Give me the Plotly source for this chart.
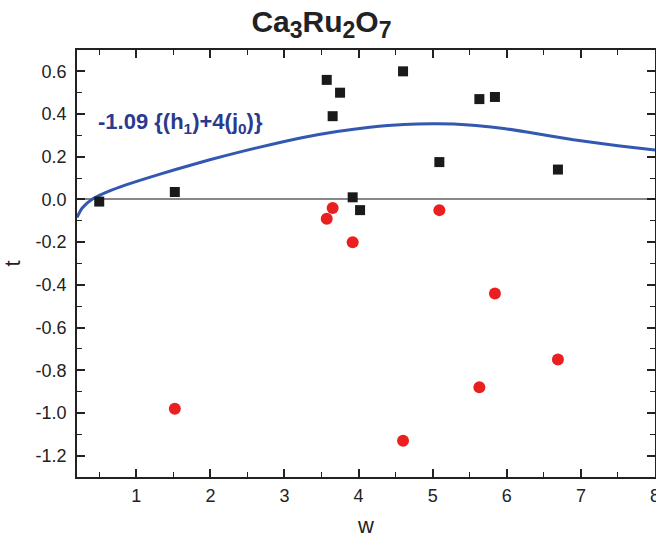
import plotly.graph_objects as go

# Black squares
sq_w = [0.5, 1.52, 3.57, 3.65, 3.75, 3.92, 4.02, 4.6, 5.09, 5.63, 5.84, 6.69]
sq_t = [-0.01, 0.035, 0.56, 0.39, 0.50, 0.01, -0.05, 0.60, 0.175, 0.47, 0.48, 0.14]

# Red circles
ci_w = [1.52, 3.57, 3.65, 3.92, 4.6, 5.09, 5.63, 5.84, 6.69]
ci_t = [-0.98, -0.09, -0.04, -0.20, -1.13, -0.05, -0.88, -0.44, -0.75]

# Blue curve
cv_w = [0.2, 0.27, 0.41, 0.64, 0.86, 1.08, 1.53, 1.98, 2.43, 2.85, 3.25, 3.71, 4.15, 4.61, 5.06, 5.49, 5.9, 6.27, 6.9, 7.5, 8.0]
cv_t = [-0.084, -0.040, 0.002, 0.040, 0.068, 0.093, 0.140, 0.185, 0.225, 0.260, 0.290, 0.318, 0.338, 0.351, 0.354, 0.349, 0.335, 0.316, 0.280, 0.252, 0.232]

x_ticks = [1, 2, 3, 4, 5, 6, 7, 8]
x_labels = ["1", "2", "3", "4", "5", "6", "7", "8"]
y_ticks = [0.6, 0.4, 0.2, 0.0, -0.2, -0.4, -0.6, -0.8, -1.0, -1.2]
y_labels = ["0.6", "0.4", "0.2", "0.0", "-0.2", "-0.4", "-0.6", "-0.8", "-1.0", "-1.2"]

font_family = "Liberation Sans, Arial, sans-serif"
ink = "#222222"

fig = go.Figure()
fig.add_trace(go.Scatter(x=cv_w, y=cv_t, mode="lines",
                         line=dict(color="#3358b0", width=3, shape="spline", smoothing=0.6),
                         showlegend=False, hoverinfo="skip"))
fig.add_trace(go.Scatter(x=sq_w, y=sq_t, mode="markers",
                         marker=dict(symbol="square", size=10, color="#1a1a1a"), showlegend=False))
fig.add_trace(go.Scatter(x=ci_w, y=ci_t, mode="markers",
                         marker=dict(symbol="circle", size=12, color="#ea2020"), showlegend=False))

fig.add_annotation(x=0.033, y=0.83, xref="paper", yref="paper", xanchor="left", yanchor="middle",
                   text="<b>-1.09 {(h<sub>1</sub>)+4(j<sub>0</sub>)}</b>", showarrow=False,
                   font=dict(size=22, color="#2b3990", family=font_family))

sub = '<sub><span style="font-size:23px">%s</span></sub>'
title_text = "<b>Ca" + sub % "3" + "Ru" + sub % "2" + "O" + sub % "7" + "</b>"

fig.update_layout(
    width=656, height=540,
    margin=dict(l=77, r=1, t=50, b=63, autoexpand=False),
    paper_bgcolor="white", plot_bgcolor="white",
    font=dict(family=font_family, size=18, color=ink),
    title=dict(text=title_text, x=0.49, xanchor="center",
               y=0.96, yanchor="middle", font=dict(size=30, color=ink, family=font_family)),
)
fig.update_xaxes(range=[0.2, 8], tickvals=x_ticks, ticktext=x_labels, ticks="inside", ticklen=8, tickwidth=1.5,
                 showline=True, linecolor=ink, linewidth=1.5, mirror="ticks", showgrid=False,
                 zeroline=False, automargin=False, ticklabelstandoff=2, ticklabeloverflow="allow",
                 minor=dict(ticks="inside", dtick=0.5, tick0=0, ticklen=5, tickwidth=1.2, tickcolor=ink),
                 tickcolor=ink,
                 title=dict(text="w", font=dict(size=22), standoff=12))
fig.update_yaxes(range=[-1.3, 0.7], tickvals=y_ticks, ticktext=y_labels, ticks="inside", ticklen=8, tickwidth=1.5,
                 showline=True, linecolor=ink, linewidth=1.5, mirror="ticks", showgrid=False,
                 zeroline=True, zerolinecolor="#888", zerolinewidth=1.5, automargin=False,
                 ticklabelstandoff=5, ticklabeloverflow="allow",
                 minor=dict(ticks="inside", dtick=0.1, tick0=0, ticklen=5, tickwidth=1.2, tickcolor=ink),
                 tickcolor=ink,
                 title=dict(text="t", font=dict(size=22), standoff=14))

fig.write_html("out.html", config={"displayModeBar": False},
               post_script="document.body.style.margin='0';")
